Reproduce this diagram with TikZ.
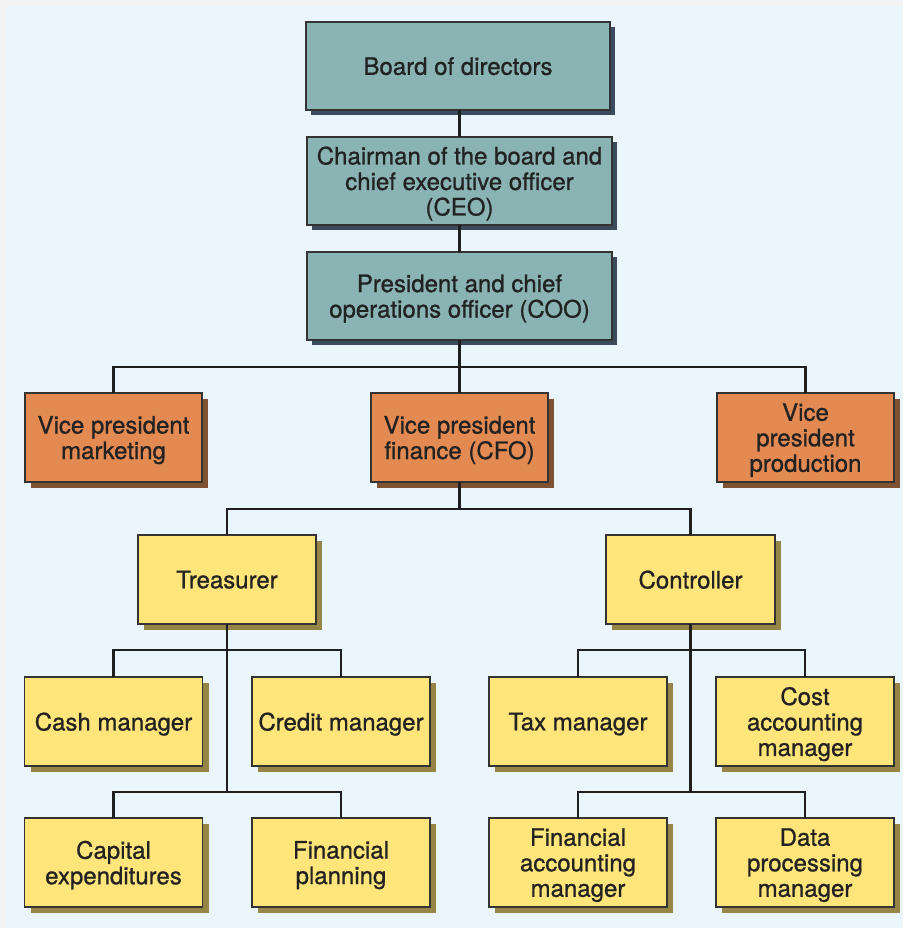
\documentclass[tikz,border=0pt]{standalone}
\usepackage{fontspec}
\setmainfont{TeX Gyre Heros}[BoldFont={TeX Gyre Heros}, BoldFeatures={FakeBold=0.9}]
\usetikzlibrary{shadows}
\definecolor{bgblue}{HTML}{EAF6FC}
\definecolor{bgedge}{HTML}{F4F4F4}
\definecolor{tealfill}{HTML}{89B4B3}
\definecolor{tealshadow}{HTML}{3B4A5C}
\definecolor{orangefill}{HTML}{E38A52}
\definecolor{orangeshadow}{HTML}{7E5232}
\definecolor{yellowfill}{HTML}{FFE57A}
\definecolor{yellowshadow}{HTML}{958648}
\definecolor{txt}{HTML}{222222}
\definecolor{bordercol}{HTML}{333333}
\tikzset{
  orgbox/.style={draw=bordercol, line width=1.2pt, inner sep=0pt, outer sep=0pt,
    align=center, text=txt, font=\fontsize{24}{25.5}\selectfont\bfseries,
    minimum height=89pt, text depth=0pt},
  tealbox/.style={orgbox, fill=tealfill, minimum width=305pt, minimum height=88pt,
    drop shadow={shadow xshift=5pt, shadow yshift=-5pt, fill=tealshadow, opacity=1}},
  orangebox/.style={orgbox, fill=orangefill, minimum width=177pt,
    drop shadow={shadow xshift=6pt, shadow yshift=-6pt, fill=orangeshadow, opacity=1}},
  yellowbox/.style={orgbox, fill=yellowfill, minimum width=178pt,
    drop shadow={shadow xshift=6pt, shadow yshift=-6pt, fill=yellowshadow, opacity=1}},
  conn/.style={line width=2.5pt, draw=black!88}
}
\begin{document}
\begin{tikzpicture}[x=1pt,y=-1pt]
\useasboundingbox (0,0) rectangle (903,928);
\fill[bgedge] (0,0) rectangle (903,928);
\fill[bgblue] (7,6) rectangle (903,928);

\node[tealbox, minimum width=304pt] (board) at (458,66) {Board of directors};
\node[tealbox] (ceo) at (459.5,181) {Chairman of the board and\\chief executive officer\\(CEO)};
\node[tealbox] (coo) at (459.5,296) {President and chief\\operations officer (COO)};

\node[orangebox] (mkt) at (113.5,437.5) {Vice president\\marketing};
\node[orangebox] (fin) at (459.5,437.5) {Vice president\\finance (CFO)};
\node[orangebox] (prod) at (805.5,437.5) {Vice\\president\\production};

\node[yellowbox] (tre) at (227,579.5) {Treasurer};
\node[yellowbox, minimum width=169pt] (ctl) at (690.5,579.5) {Controller};

\node[yellowbox] (cash) at (113.5,721.5) {Cash manager};
\node[yellowbox] (credit) at (341,721.5) {Credit manager};
\node[yellowbox] (tax) at (578,721.5) {Tax manager};
\node[yellowbox] (cost) at (805,721.5) {Cost\\accounting\\manager};

\node[yellowbox] (cap) at (113.5,862.5) {Capital\\expenditures};
\node[yellowbox] (plan) at (341,862.5) {Financial\\planning};
\node[yellowbox] (facc) at (578,862.5) {Financial\\accounting\\manager};
\node[yellowbox] (data) at (805,862.5) {Data\\processing\\manager};

% top chain
\draw[conn] (board.south -| ceo.north) -- (ceo.north);
\draw[conn] (ceo.south) -- (coo.north);

% COO to VPs
\draw[conn] (coo.south) -- ++(0,27) coordinate (j1);
\draw[conn] (mkt.north) |- (j1) -| (prod.north);
\draw[conn] (j1) -- (fin.north);

% CFO to treasurer / controller
\draw[conn] (fin.south) -- ++(0,27) coordinate (j2);
\draw[conn] (tre.north) |- (j2) -| (ctl.north);

% treasurer tree
\draw[conn] (tre.south) -- ++(0,26) coordinate (t1) -- ++(0,142) coordinate (t2);
\draw[conn] (cash.north) |- (t1) -| (credit.north);
\draw[conn] (cap.north) |- (t2) -| (plan.north);

% controller tree
\draw[conn] (ctl.south) -- ++(0,26) coordinate (c1) -- ++(0,142) coordinate (c2);
\draw[conn] (tax.north) |- (c1) -| (cost.north);
\draw[conn] (facc.north) |- (c2) -| (data.north);
\end{tikzpicture}
\end{document}
